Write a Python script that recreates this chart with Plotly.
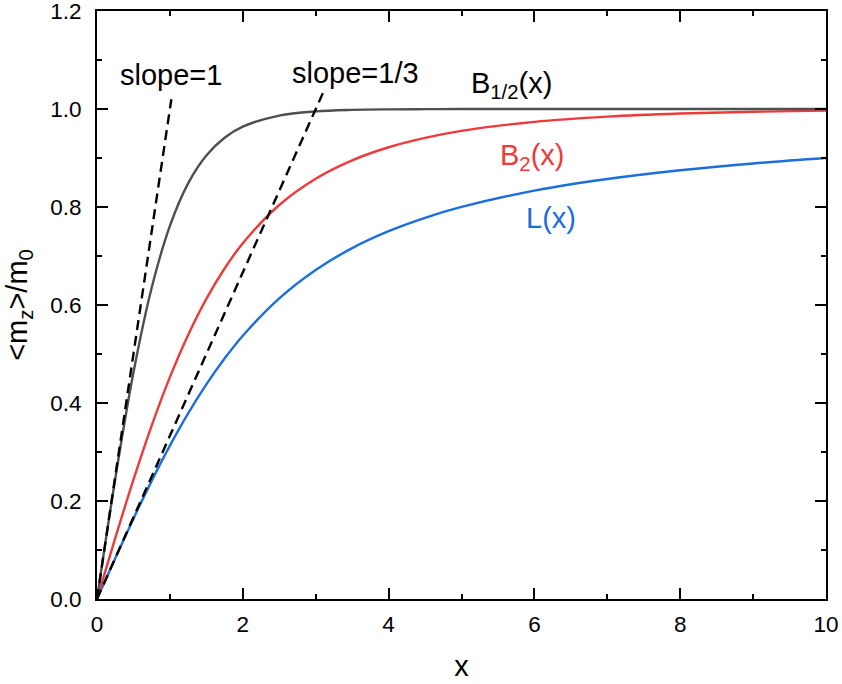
import plotly.graph_objects as go

# Values
x_vals = [0, 0.25, 0.5, 0.75, 1, 1.25, 1.5, 1.75, 2, 2.5, 3, 3.5, 4, 4.5, 5, 6, 7, 8, 9, 10]
b_half = [0, 0.2449, 0.4621, 0.6351, 0.7616, 0.8483, 0.9051, 0.9414, 0.9640, 0.9866, 0.9951,
          0.9982, 0.9993, 0.9997, 0.9999, 1.0, 1.0, 1.0, 1.0, 1.0]
b_two = [0, 0.1242, 0.2435, 0.3539, 0.4528, 0.5390, 0.6126, 0.6745, 0.7260, 0.8041, 0.8578,
         0.8952, 0.9219, 0.9411, 0.9553, 0.9738, 0.9844, 0.9907, 0.9944, 0.9966]
lang = [0, 0.0830, 0.1640, 0.2411, 0.3130, 0.3789, 0.4381, 0.4908, 0.5373, 0.6136, 0.6716,
        0.7161, 0.7507, 0.7780, 0.8001, 0.8334, 0.8571, 0.8750, 0.8889, 0.9000]

slope1_x = [0, 1.02]
slope1_y = [0, 1.02]
slope3_x = [0, 3.1]
slope3_y = [0, 1.033]

x_ticks = [0, 2, 4, 6, 8, 10]
y_ticks = [0.0, 0.2, 0.4, 0.6, 0.8, 1.0, 1.2]

FONT = "Liberation Sans, Arial, sans-serif"
GRAY = "#4f4f4f"
RED = "#ee3a3a"
BLUE = "#1c6edc"
LW = 2.4

fig = go.Figure()
fig.add_trace(go.Scatter(x=x_vals, y=lang, mode="lines", line=dict(color=BLUE, width=LW, shape="spline"),
                         showlegend=False, hoverinfo="skip"))
fig.add_trace(go.Scatter(x=x_vals, y=b_two, mode="lines", line=dict(color=RED, width=LW, shape="spline"),
                         showlegend=False, hoverinfo="skip"))
fig.add_trace(go.Scatter(x=x_vals, y=b_half, mode="lines", line=dict(color=GRAY, width=LW, shape="spline"),
                         showlegend=False, hoverinfo="skip"))
fig.add_trace(go.Scatter(x=slope1_x, y=slope1_y, mode="lines",
                         line=dict(color="black", width=LW, dash="10px,6px"),
                         showlegend=False, hoverinfo="skip"))
fig.add_trace(go.Scatter(x=slope3_x, y=slope3_y, mode="lines",
                         line=dict(color="black", width=LW, dash="10px,6px"),
                         showlegend=False, hoverinfo="skip"))

annos = [
    dict(x=1.015, y=1.069, text="slope=1", color="black"),
    dict(x=3.54, y=1.073, text="slope=1/3", color="black"),
    dict(x=5.69, y=1.049, text="B<sub>1/2</sub>(x)", color="black"),
    dict(x=5.97, y=0.902, text="B<sub>2</sub>(x)", color=RED),
    dict(x=6.23, y=0.778, text="L(x)", color=BLUE),
]
for a in annos:
    fig.add_annotation(x=a["x"], y=a["y"], text=a["text"], showarrow=False,
                       font=dict(family=FONT, size=29, color=a["color"]),
                       xanchor="center", yanchor="middle")

axis_common = dict(
    showline=True, linecolor="black", linewidth=2, mirror="ticks",
    ticks="inside", ticklen=11, tickwidth=2, tickcolor="black",
    showgrid=False, zeroline=False, automargin=False,
    ticklabeloverflow="allow",
    tickfont=dict(family=FONT, size=22.5, color="black"),
)

fig.update_xaxes(range=[0, 10], tickvals=x_ticks, ticktext=[str(v) for v in x_ticks],
                 minor=dict(ticks="inside", ticklen=5, tickwidth=2, tickcolor="black", dtick=1, tick0=0),
                 title=dict(text="x", font=dict(family=FONT, size=29, color="black"), standoff=20),
                 ticklabelstandoff=4,
                 **axis_common)
fig.update_yaxes(range=[0, 1.2], tickvals=y_ticks, ticktext=[f"{v:.1f}" for v in y_ticks],
                 minor=dict(ticks="inside", ticklen=5, tickwidth=2, tickcolor="black", dtick=0.1, tick0=0),
                 title=dict(text="&lt;m<sub>z</sub>&gt;/m<sub>0</sub>",
                            font=dict(family=FONT, size=29, color="black"), standoff=14),
                 ticklabelstandoff=9,
                 **axis_common)

fig.update_layout(
    width=842, height=684,
    margin=dict(l=97, r=16, t=11, b=85),
    plot_bgcolor="white", paper_bgcolor="white",
    showlegend=False,
)

fig.write_html("out.html", config={"displayModeBar": False},
               post_script="document.body.style.margin='0';document.body.style.padding='0';")
